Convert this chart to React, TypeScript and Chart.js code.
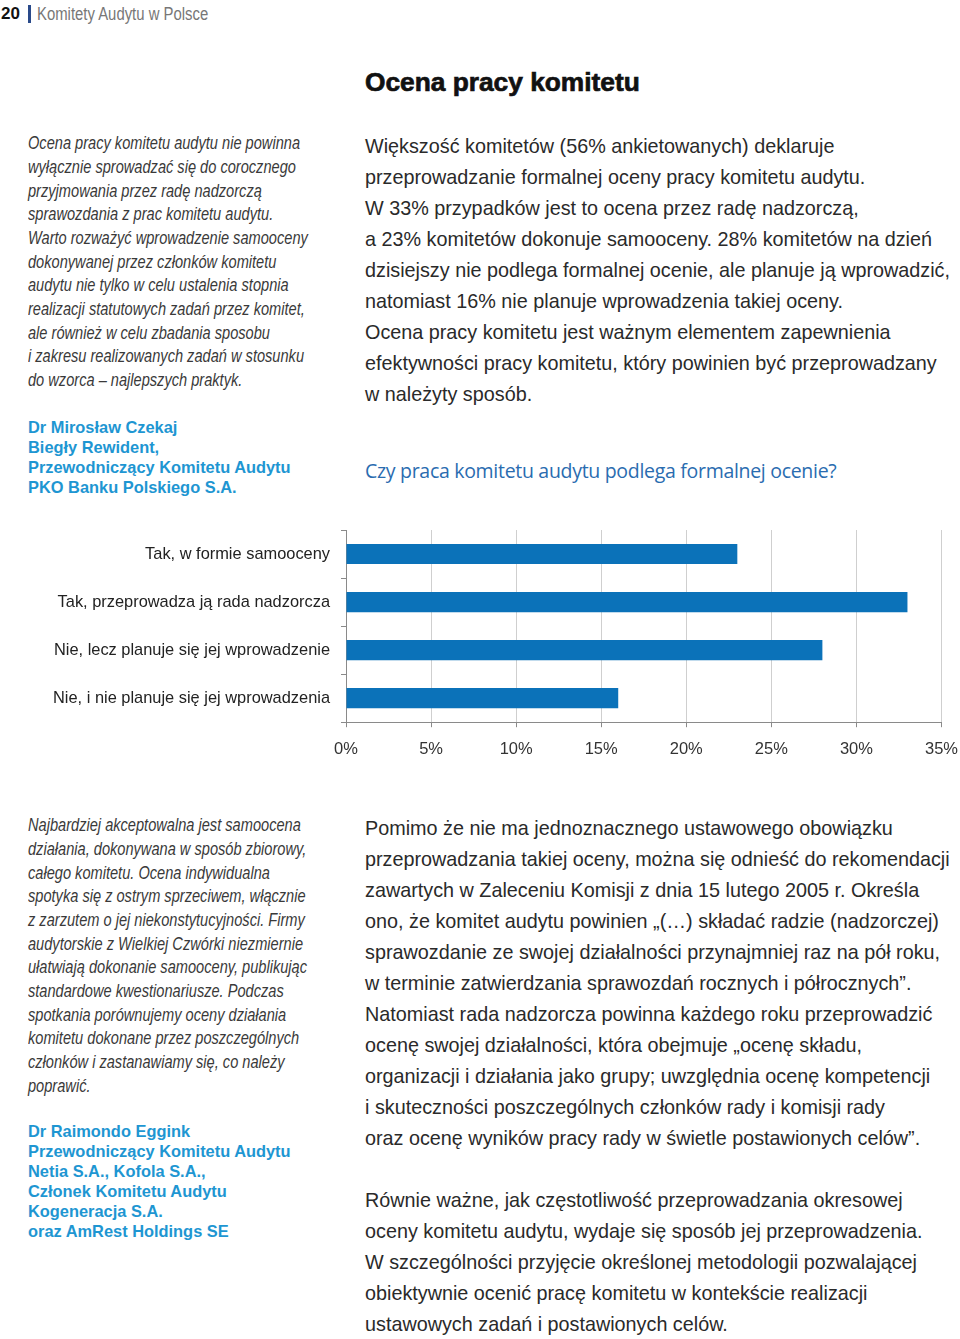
import React, { useEffect, useRef } from "react";
import { Chart, registerables } from "chart.js";

Chart.register(...registerables);

// ---- Chart data ----
const categories = [
  "Tak, w formie samooceny",
  "Tak, przeprowadza ją rada nadzorcza",
  "Nie, lecz planuje się jej wprowadzenie",
  "Nie, i nie planuje się jej wprowadzenia",
];
const shares = [23, 33, 28, 16];
const xMin = 0;
const xMax = 35;
const xStep = 5;

// ---- Page text ----
const leftTop = [
  "Ocena pracy komitetu audytu nie powinna",
  "wyłącznie sprowadzać się do corocznego",
  "przyjmowania przez radę nadzorczą",
  "sprawozdania z prac komitetu audytu.",
  "Warto rozważyć wprowadzenie samooceny",
  "dokonywanej przez członków komitetu",
  "audytu nie tylko w celu ustalenia stopnia",
  "realizacji statutowych zadań przez komitet,",
  "ale również w celu zbadania sposobu",
  "i zakresu realizowanych zadań w stosunku",
  "do wzorca – najlepszych praktyk.",
];
const leftTopAuthor = [
  "Dr Mirosław Czekaj",
  "Biegły Rewident,",
  "Przewodniczący Komitetu Audytu",
  "PKO Banku Polskiego S.A.",
];
const rightTop = [
  "Większość komitetów (56% ankietowanych) deklaruje",
  "przeprowadzanie formalnej oceny pracy komitetu audytu.",
  "W 33% przypadków jest to ocena przez radę nadzorczą,",
  "a 23% komitetów dokonuje samooceny. 28% komitetów na dzień",
  "dzisiejszy nie podlega formalnej ocenie, ale planuje ją wprowadzić,",
  "natomiast 16% nie planuje wprowadzenia takiej oceny.",
  "Ocena pracy komitetu jest ważnym elementem zapewnienia",
  "efektywności pracy komitetu, który powinien być przeprowadzany",
  "w należyty sposób.",
];
const leftBottom = [
  "Najbardziej akceptowalna jest samoocena",
  "działania, dokonywana w sposób zbiorowy,",
  "całego komitetu. Ocena indywidualna",
  "spotyka się z ostrym sprzeciwem, włącznie",
  "z zarzutem o jej niekonstytucyjności. Firmy",
  "audytorskie z Wielkiej Czwórki niezmiernie",
  "ułatwiają dokonanie samooceny, publikując",
  "standardowe kwestionariusze. Podczas",
  "spotkania porównujemy oceny działania",
  "komitetu dokonane przez poszczególnych",
  "członków i zastanawiamy się, co należy",
  "poprawić.",
];
const leftBottomAuthor = [
  "Dr Raimondo Eggink",
  "Przewodniczący Komitetu Audytu",
  "Netia S.A., Kofola S.A.,",
  "Członek Komitetu Audytu",
  "Kogeneracja S.A.",
  "oraz AmRest Holdings SE",
];
const rightBottom1 = [
  "Pomimo że nie ma jednoznacznego ustawowego obowiązku",
  "przeprowadzania takiej oceny, można się odnieść do rekomendacji",
  "zawartych w Zaleceniu Komisji z dnia 15 lutego 2005 r. Określa",
  "ono, że komitet audytu powinien „(…) składać radzie (nadzorczej)",
  "sprawozdanie ze swojej działalności przynajmniej raz na pół roku,",
  "w terminie zatwierdzania sprawozdań rocznych i półrocznych”.",
  "Natomiast rada nadzorcza powinna każdego roku przeprowadzić",
  "ocenę swojej działalności, która obejmuje „ocenę składu,",
  "organizacji i działania jako grupy; uwzględnia ocenę kompetencji",
  "i skuteczności poszczególnych członków rady i komisji rady",
  "oraz ocenę wyników pracy rady w świetle postawionych celów”.",
];
const rightBottom2 = [
  "Równie ważne, jak częstotliwość przeprowadzania okresowej",
  "oceny komitetu audytu, wydaje się sposób jej przeprowadzenia.",
  "W szczególności przyjęcie określonej metodologii pozwalającej",
  "obiektywnie ocenić pracę komitetu w kontekście realizacji",
  "ustawowych zadań i postawionych celów.",
];

const SANS = "'Liberation Sans', Arial, Helvetica, sans-serif";

function measure(text: string, font: string): number {
  const c = document.createElement("canvas");
  const ctx = c.getContext("2d");
  if (!ctx) return 1;
  ctx.font = font;
  return ctx.measureText(text).width || 1;
}

const ITALIC_SIZE = 17.5;
const italicScale = 272 / measure(leftTop[0], `italic ${ITALIC_SIZE}px 'Liberation Sans'`);
const headerScale = 172 / measure("Komitety Audytu w Polsce", `18px 'Liberation Sans'`);

const italicStyle: React.CSSProperties = {
  fontFamily: SANS,
  fontStyle: "italic",
  fontSize: ITALIC_SIZE,
  color: "#3a3a3a",
  transform: `scaleX(${italicScale})`,
  transformOrigin: "left center",
};
const authorStyle: React.CSSProperties = {
  fontFamily: SANS,
  fontWeight: 700,
  fontSize: 16.4,
  color: "#1e96d2",
};
const bodyStyle: React.CSSProperties = {
  fontFamily: SANS,
  fontSize: 19.8,
  color: "#2a2a2a",
};

function Lines(props: { x: number; y0: number; lh: number; lines: string[]; style: React.CSSProperties }) {
  const { x, y0, lh, lines, style } = props;
  return (
    <>
      {lines.map((t, i) => (
        <div
          key={i}
          style={{
            position: "absolute",
            left: x,
            top: y0 + i * lh - lh / 2,
            height: lh,
            lineHeight: lh + "px",
            whiteSpace: "nowrap",
            ...style,
          }}
        >
          {t}
        </div>
      ))}
    </>
  );
}

function BarChart() {
  const ref = useRef<HTMLCanvasElement | null>(null);
  useEffect(() => {
    if (!ref.current) return;
    const chart = new Chart(ref.current, {
      type: "bar",
      data: {
        labels: categories,
        datasets: [
          {
            data: shares,
            backgroundColor: "#0b72b9",
            borderWidth: 0,
            categoryPercentage: 1,
            barPercentage: 0.42,
          },
        ],
      },
      options: {
        indexAxis: "y",
        animation: false,
        responsive: false,
        maintainAspectRatio: false,
        layout: { padding: { top: 30, right: 0, bottom: 19, left: 0 } },
        plugins: { legend: { display: false }, tooltip: { enabled: false } },
        scales: {
          x: {
            min: xMin,
            max: xMax,
            ticks: {
              stepSize: xStep,
              callback: (v: any) => v + "%",
              color: "#333",
              font: { family: SANS, size: 16.5 },
              padding: 12,
            },
            grid: { color: "#cfcfcf", tickColor: "#8a8a8a", tickLength: 5, drawTicks: true },
            border: { color: "#8a8a8a" },
          },
          y: {
            afterFit: (s: any) => {
              s.width = 346;
            },
            ticks: { color: "#222", font: { family: SANS, size: 16.4 }, padding: 11 },
            grid: { drawOnChartArea: false, tickLength: 5, color: "#8a8a8a" },
            border: { color: "#8a8a8a" },
          },
        },
      },
    } as any);
    return () => chart.destroy();
  }, []);
  return (
    <canvas
      ref={ref}
      width={970}
      height={290}
      style={{ position: "absolute", left: 0, top: 500, width: 970, height: 290 }}
    />
  );
}

export default function App() {
  return (
    <div
      style={{
        position: "absolute",
        left: 0,
        top: 0,
        width: 960,
        height: 1339,
        background: "#fff",
        overflow: "hidden",
      }}
    >
      {/* running header */}
      <div style={{ position: "absolute", left: 1, top: 3, height: 22, lineHeight: "22px", fontFamily: SANS, fontWeight: 700, fontSize: 17, color: "#111" }}>
        20
      </div>
      <div style={{ position: "absolute", left: 28, top: 5, width: 3, height: 18, background: "#2a4a8a" }} />
      <div
        style={{
          position: "absolute",
          left: 37,
          top: 3,
          height: 22,
          lineHeight: "22px",
          fontFamily: SANS,
          fontSize: 18,
          color: "#777",
          whiteSpace: "nowrap",
          transform: `scaleX(${headerScale})`,
          transformOrigin: "left center",
        }}
      >
        Komitety Audytu w Polsce
      </div>

      {/* title */}
      <div
        style={{
          position: "absolute",
          left: 365,
          top: 66,
          height: 32,
          lineHeight: "32px",
          fontFamily: SANS,
          fontWeight: 900,
          fontSize: 26.3,
          color: "#111",
          whiteSpace: "nowrap",
          WebkitTextStroke: "0.7px #111",
        } as any}
      >
        Ocena pracy komitetu
      </div>

      <Lines x={28} y0={144} lh={23.7} lines={leftTop} style={italicStyle} />
      <Lines x={28} y0={427} lh={20} lines={leftTopAuthor} style={authorStyle} />
      <Lines x={365} y0={146} lh={31} lines={rightTop} style={bodyStyle} />

      <div
        style={{
          position: "absolute",
          left: 365,
          top: 456,
          height: 30,
          lineHeight: "30px",
          fontFamily: "'Open Sans', sans-serif",
          fontSize: 19.5,
          color: "#2a6cb0",
          whiteSpace: "nowrap",
          letterSpacing: -0.3,
        }}
      >
        Czy praca komitetu audytu podlega formalnej ocenie?
      </div>

      <BarChart />

      <Lines x={28} y0={826} lh={23.7} lines={leftBottom} style={italicStyle} />
      <Lines x={28} y0={1131} lh={20} lines={leftBottomAuthor} style={authorStyle} />
      <Lines x={365} y0={828} lh={31} lines={rightBottom1} style={bodyStyle} />
      <Lines x={365} y0={1200} lh={31} lines={rightBottom2} style={bodyStyle} />
    </div>
  );
}
